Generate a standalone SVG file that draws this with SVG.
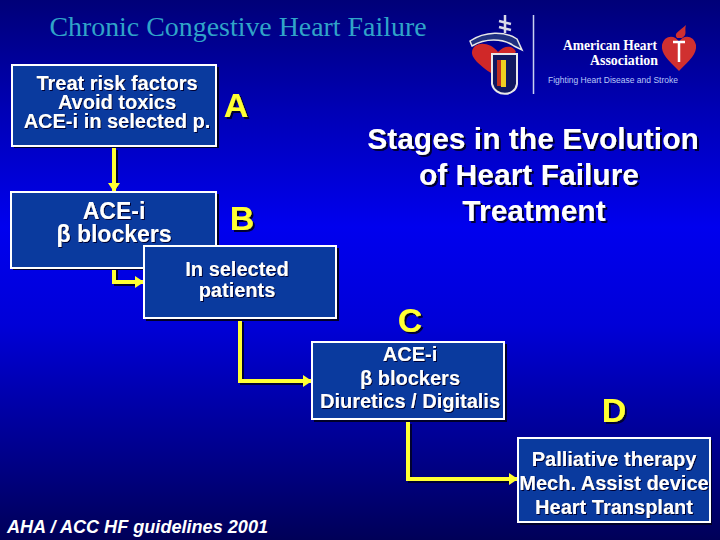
<svg xmlns="http://www.w3.org/2000/svg" width="720" height="540" viewBox="0 0 720 540">
<defs>
<linearGradient id="bg" x1="0" y1="0" x2="0" y2="1">
<stop offset="0" stop-color="#000078"/><stop offset="0.2" stop-color="#0000b4"/><stop offset="0.42" stop-color="#0000ee"/><stop offset="0.6" stop-color="#0000d8"/><stop offset="0.8" stop-color="#000098"/><stop offset="1" stop-color="#000058"/>
</linearGradient>
<marker id="arr" markerUnits="userSpaceOnUse" markerWidth="10" markerHeight="12" refX="9" refY="6" orient="auto"><path d="M0 0L9 6L0 12Z" fill="#ffff33"/></marker>
<filter id="ds" x="-10%" y="-20%" width="120%" height="140%"><feDropShadow dx="2" dy="2" stdDeviation="0.4" flood-color="#000030"/></filter>
<filter id="ds1" x="-10%" y="-20%" width="120%" height="140%"><feDropShadow dx="1" dy="1" stdDeviation="0.3" flood-color="#000030"/></filter>
</defs>
<style>
.box{fill:#0a3a9e;stroke:#fff;stroke-width:2}
.sh{fill:#000028}
text{font-family:"Liberation Sans",Arial,sans-serif;text-anchor:middle}
.t{fill:#fff;font-weight:bold;font-size:20px;filter:url(#ds1)}
.l{fill:#ffff33;font-weight:bold;font-size:34px;filter:url(#ds)}
.h{fill:#fff;font-weight:bold;font-size:30px;filter:url(#ds)}
.c{fill:none;stroke:#ffff33;stroke-width:4}
.cs{fill:none;stroke:#000030;stroke-width:4}
</style>
<rect width="720" height="540" fill="url(#bg)"/>
<text x="238" y="36" style="font-family:'Liberation Serif',serif;font-size:27.900px;fill:#30a4c8">Chronic Congestive Heart Failure</text>
<g id="logos">
<path d="M533.500 15V94" stroke="#c8d0f0" stroke-width="1.500"/>
<path d="M506 82C488 72 471 60 472 52C473 41 490 41 498 52C505 44 514 46 516 52L506 60Z" fill="#d02828"/>
<path d="M492 54H517V84C515 97 495 97 492 84Z" fill="#101860" stroke="#e8e8e8" stroke-width="2"/>
<rect x="501" y="60" width="5" height="27" fill="#f0d020"/><rect x="497" y="60" width="4" height="26" fill="#c03020"/>
<path d="M470 41C485 31 505 31 517 39L522 50L514 46C503 38 485 38 472 46Z" fill="#203080" stroke="#e8e8e8" stroke-width="1.500"/>
<path d="M505 15V33M499 21L511 24M499 27L511 30" stroke="#d8d8e8" stroke-width="2.500" fill="none"/>
<path d="M679 71C668 60 661 54 662 45C664 35 675 34 679 42C683 34 694 35 696 45C697 54 690 60 679 71Z" fill="#d03030"/>
<path d="M673 42H685M679 42V62" stroke="#fff" stroke-width="2.500"/>
<path d="M677 38C673 33 680 31 686 25C684 31 688 34 682 38Z" fill="#d03030"/>
<text x="610" y="50" fill="#fff" style="font-family:'Liberation Serif',serif;font-size:15.500px;font-weight:bold" textLength="94" lengthAdjust="spacingAndGlyphs">American Heart</text>
<text x="624" y="65" fill="#fff" style="font-family:'Liberation Serif',serif;font-size:15.500px;font-weight:bold" textLength="68" lengthAdjust="spacingAndGlyphs">Association</text>
<text x="613" y="83" fill="#b8c8f8" font-size="8.500px" textLength="130" lengthAdjust="spacingAndGlyphs">Fighting Heart Disease and Stroke</text>
</g>
<g id="connectors">
<path class="cs" d="M114 148V186M114 268V282H135M240 320V381H304M408 422V479H510" transform="translate(2 2)"/>
<path class="c" d="M114 148V192" marker-end="url(#arr)"/>
<path class="c" d="M114 268V282H144" marker-end="url(#arr)"/>
<path class="c" d="M240 320V381H312" marker-end="url(#arr)"/>
<path class="c" d="M408 422V479H518" marker-end="url(#arr)"/>
</g>
<g id="node-a">
<rect class="sh" x="14" y="67" width="205" height="81"/>
<rect class="box" x="12" y="65" width="204" height="81"/>
<text class="t" x="117" y="90" style="font-size:20px">Treat risk factors</text>
<text class="t" x="117" y="109" style="font-size:20px">Avoid toxics</text>
<text class="t" x="117" y="128" style="font-size:20px">ACE-i in selected p.</text>
<text class="l" x="236" y="117">A</text>
</g>
<g id="node-b">
<rect class="sh" x="13" y="194" width="206" height="76"/>
<rect class="box" x="11" y="192" width="205" height="76"/>
<text class="t" x="114" y="219" style="font-size:23px">ACE-i</text>
<text class="t" x="114" y="242" style="font-size:23px">β blockers</text>
<text class="l" x="242" y="230">B</text>
</g>
<g id="node-selected">
<rect class="sh" x="146" y="248" width="193" height="73"/>
<rect class="box" x="144" y="246" width="192" height="72"/>
<text class="t" x="237" y="276">In selected</text>
<text class="t" x="237" y="297">patients</text>
</g>
<g id="title">
<text class="h" x="533" y="149">Stages in the Evolution</text>
<text class="h" x="529" y="185">of Heart Failure</text>
<text class="h" x="534" y="221">Treatment</text>
</g>
<g id="node-c">
<rect class="sh" x="314" y="344" width="193" height="78"/>
<rect class="box" x="312" y="342" width="192" height="77"/>
<text class="t" x="410" y="361">ACE-i</text>
<text class="t" x="410" y="385">β blockers</text>
<text class="t" x="410" y="408">Diuretics / Digitalis</text>
<text class="l" x="410" y="332">C</text>
</g>
<g id="node-d">
<rect class="sh" x="520" y="440" width="192" height="85"/>
<rect class="box" x="518" y="438" width="192" height="84"/>
<text class="t" x="614" y="466">Palliative therapy</text>
<text class="t" x="614" y="490">Mech. Assist device</text>
<text class="t" x="614" y="514">Heart Transplant</text>
<text class="l" x="614" y="422">D</text>
</g>
<text x="137.500" y="533" fill="#fff" font-weight="bold" font-style="italic" font-size="18.100px">AHA / ACC HF guidelines 2001</text>
</svg>
